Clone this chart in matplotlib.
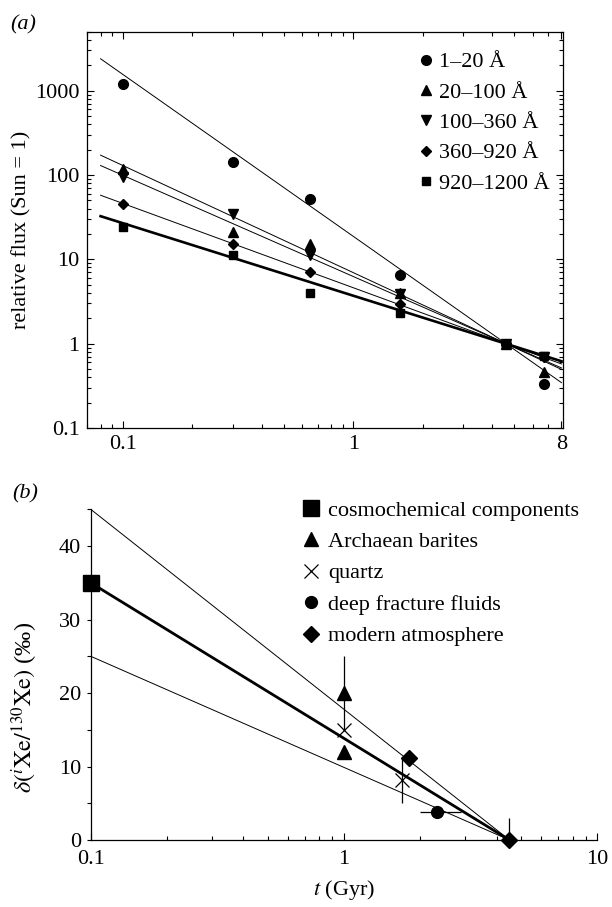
import numpy as np
import matplotlib
matplotlib.use('Agg')
import matplotlib.pyplot as plt
from matplotlib.ticker import FixedLocator, FuncFormatter, LogLocator, NullFormatter, MultipleLocator

plt.rcParams['font.family'] = ['Liberation Serif', 'DejaVu Serif']
plt.rcParams['mathtext.fontset'] = 'stix'
plt.rcParams['font.size'] = 16
plt.rcParams['axes.linewidth'] = 0.9

# ---------------- Panel (a) data ----------------
ages_a = [0.1, 0.3, 0.65, 1.6, 4.6, 6.7]
band_labels = ['1–20 Å', '20–100 Å', '100–360 Å', '360–920 Å', '920–1200 Å']
flux_1_20 = [1200, 141, 52, 6.5, 1.0, 0.33]
flux_20_100 = [118, 21, 15.3, 4.0, 1.0, 0.46]
flux_100_360 = [94, 34.5, 11.3, 3.9, 1.0, 0.70]
flux_360_920 = [45, 15.3, 7.0, 2.95, 1.0, 0.70]
flux_920_1200 = [24.5, 11.4, 3.95, 2.3, 1.0, 0.71]
fit_slopes = [-1.92, -1.27, -1.20, -1.00, -0.86]
fit_coeffs = [18.7, 6.95, 6.25, 4.6, 3.7]      # fitted flux at t = 1 Gyr
fit_range = [0.08, 8.0]
xticks_a = [0.1, 1, 8]
yticks_a = [0.1, 1, 10, 100, 1000]

# ---------------- Panel (b) data ----------------
cosmo_t = [0.1]
cosmo_d = [35.0]
barite_t = [1.0, 1.0]
barite_d = [20.0, 12.0]
barite_derr = [5.0, 0.0]
quartz_t = [1.0, 1.7]
quartz_d = [15.0, 8.2]
quartz_derr = [0.0, 3.1]
fluid_t = [2.33]
fluid_d = [3.85]
fluid_terr_lo = [0.33]
fluid_terr_hi = [0.57]
atm_t = [1.81, 4.5]
atm_d = [11.2, 0.0]
atm_derr_lo = [0.0, 0.0]
atm_derr_hi = [0.0, 3.0]
trend_t = [0.1, 4.5]
trend_upper = [45.0, 0.0]
trend_mid = [35.0, 0.0]
trend_lower = [25.0, 0.0]
xticks_b = [0.1, 1, 10]
yticks_b = [0, 10, 20, 30, 40]
legend_b = ['cosmochemical components', 'Archaean barites', 'quartz',
            'deep fracture fluids', 'modern atmosphere']

W, H = 612, 907
fig = plt.figure(figsize=(W / 100, H / 100), dpi=100)

# ---------------- Panel (a) ----------------
ax1 = fig.add_axes([86.5 / W, 1 - 428 / H, (562.7 - 86.5) / W, (428 - 31.7) / H])
series = [flux_1_20, flux_20_100, flux_100_360, flux_360_920, flux_920_1200]
markers = ['o', '^', 'v', 'D', 's']
msizes = [7, 7, 7, 5.2, 5.5]
lws = [0.7, 0.7, 0.7, 0.7, 1.9]
tt = np.array(fit_range)
handles = []
for vals, m, ms, lw, a, c, lab in zip(series, markers, msizes, lws, fit_coeffs, fit_slopes, band_labels):
    ax1.plot(tt, a * tt ** c, color='black', lw=lw, zorder=2)
    h, = ax1.plot(ages_a, vals, linestyle='none', marker=m, ms=ms, color='black', zorder=3, label=lab)
    handles.append(h)

ax1.set_xscale('log')
ax1.set_yscale('log')
ax1.set_xlim(0.0695, 8.1)
ax1.set_ylim(0.1, 5000)
ax1.xaxis.set_major_locator(FixedLocator(xticks_a))
ax1.xaxis.set_major_formatter(FuncFormatter(lambda v, p: '%g' % v))
ax1.xaxis.set_minor_locator(LogLocator(base=10, subs=np.arange(2, 10)))
ax1.xaxis.set_minor_formatter(NullFormatter())
ax1.yaxis.set_major_locator(FixedLocator(yticks_a))
ax1.yaxis.set_major_formatter(FuncFormatter(lambda v, p: '%g' % v))
ax1.yaxis.set_minor_locator(LogLocator(base=10, subs=np.arange(2, 10)))
ax1.yaxis.set_minor_formatter(NullFormatter())
ax1.tick_params(which='both', direction='in', top=True, right=True, width=0.8)
ax1.tick_params(which='major', length=5, pad=5)
ax1.tick_params(which='minor', length=3)
ax1.set_ylabel('relative flux (Sun = 1)')
ax1.yaxis.set_label_coords(-0.1165, 0.5)
ax1.legend(handles=handles, loc='upper left', bbox_to_anchor=(0.699, 0.949),
           frameon=False, handlelength=0.6, handletextpad=0.3, labelspacing=0.44,
           borderpad=0, borderaxespad=0)
fig.text(10 / W, 1 - 25 / H, '(a)', style='italic', va='center', ha='left')

# ---------------- Panel (b) ----------------
ax2 = fig.add_axes([90.7 / W, 1 - 840 / H, (597.3 - 90.7) / W, (840 - 509.3) / H])
ax2.plot(trend_t, trend_upper, color='black', lw=0.7, zorder=2)
ax2.plot(trend_t, trend_lower, color='black', lw=0.7, zorder=2)
ax2.plot(trend_t, trend_mid, color='black', lw=2.0, zorder=2)

eb = dict(fmt='none', ecolor='black', elinewidth=0.9, capsize=0, zorder=3, clip_on=False)
ax2.errorbar(barite_t, barite_d, yerr=barite_derr, **eb)
ax2.errorbar(quartz_t, quartz_d, yerr=quartz_derr, **eb)
ax2.errorbar(fluid_t, fluid_d, xerr=[fluid_terr_lo, fluid_terr_hi], **eb)
ax2.errorbar(atm_t, atm_d, yerr=[atm_derr_lo, atm_derr_hi], **eb)

h1, = ax2.plot(cosmo_t, cosmo_d, 's', ms=11, color='black', clip_on=False, zorder=4, label=legend_b[0])
h2, = ax2.plot(barite_t, barite_d, '^', ms=10, color='black', clip_on=False, zorder=4, label=legend_b[1])
h3, = ax2.plot(quartz_t, quartz_d, 'x', ms=10, mew=0.9, color='black', clip_on=False, zorder=4, label=legend_b[2])
h4, = ax2.plot(fluid_t, fluid_d, 'o', ms=8.5, color='black', clip_on=False, zorder=4, label=legend_b[3])
h5, = ax2.plot(atm_t, atm_d, 'D', ms=8, color='black', clip_on=False, zorder=4, label=legend_b[4])

ax2.set_xscale('log')
ax2.set_xlim(0.1, 10)
ax2.set_ylim(0, 45)
ax2.spines['top'].set_visible(False)
ax2.spines['right'].set_visible(False)
ax2.xaxis.set_major_locator(FixedLocator(xticks_b))
ax2.xaxis.set_major_formatter(FuncFormatter(lambda v, p: '%g' % v))
ax2.xaxis.set_minor_locator(LogLocator(base=10, subs=np.arange(2, 10)))
ax2.xaxis.set_minor_formatter(NullFormatter())
ax2.yaxis.set_major_locator(FixedLocator(yticks_b))
ax2.yaxis.set_minor_locator(MultipleLocator(5))
ax2.tick_params(axis='x', which='both', direction='in', width=0.8, pad=7)
ax2.tick_params(axis='x', which='major', length=5)
ax2.tick_params(axis='x', which='minor', length=3)
ax2.tick_params(axis='y', which='both', direction='out', width=0.8, length=3, pad=4)
ax2.set_xlabel('$t$ (Gyr)')
ax2.xaxis.set_label_coords(0.5, -0.115)
ax2.set_ylabel(r'$\delta(^{i}\mathrm{Xe}/^{130}\mathrm{Xe})$ (‰)', fontsize=17.5)
ax2.yaxis.set_label_coords(-0.100, 0.40)
ax2.legend(handles=[h1, h2, h3, h4, h5], loc='upper left', bbox_to_anchor=(0.418, 1.028),
           frameon=False, handlelength=0.8, handletextpad=0.35, labelspacing=0.49,
           borderpad=0, borderaxespad=0)
fig.text(12 / W, 1 - 494 / H, '(b)', style='italic', va='center', ha='left')

fig.savefig('out.png', dpi=100)
